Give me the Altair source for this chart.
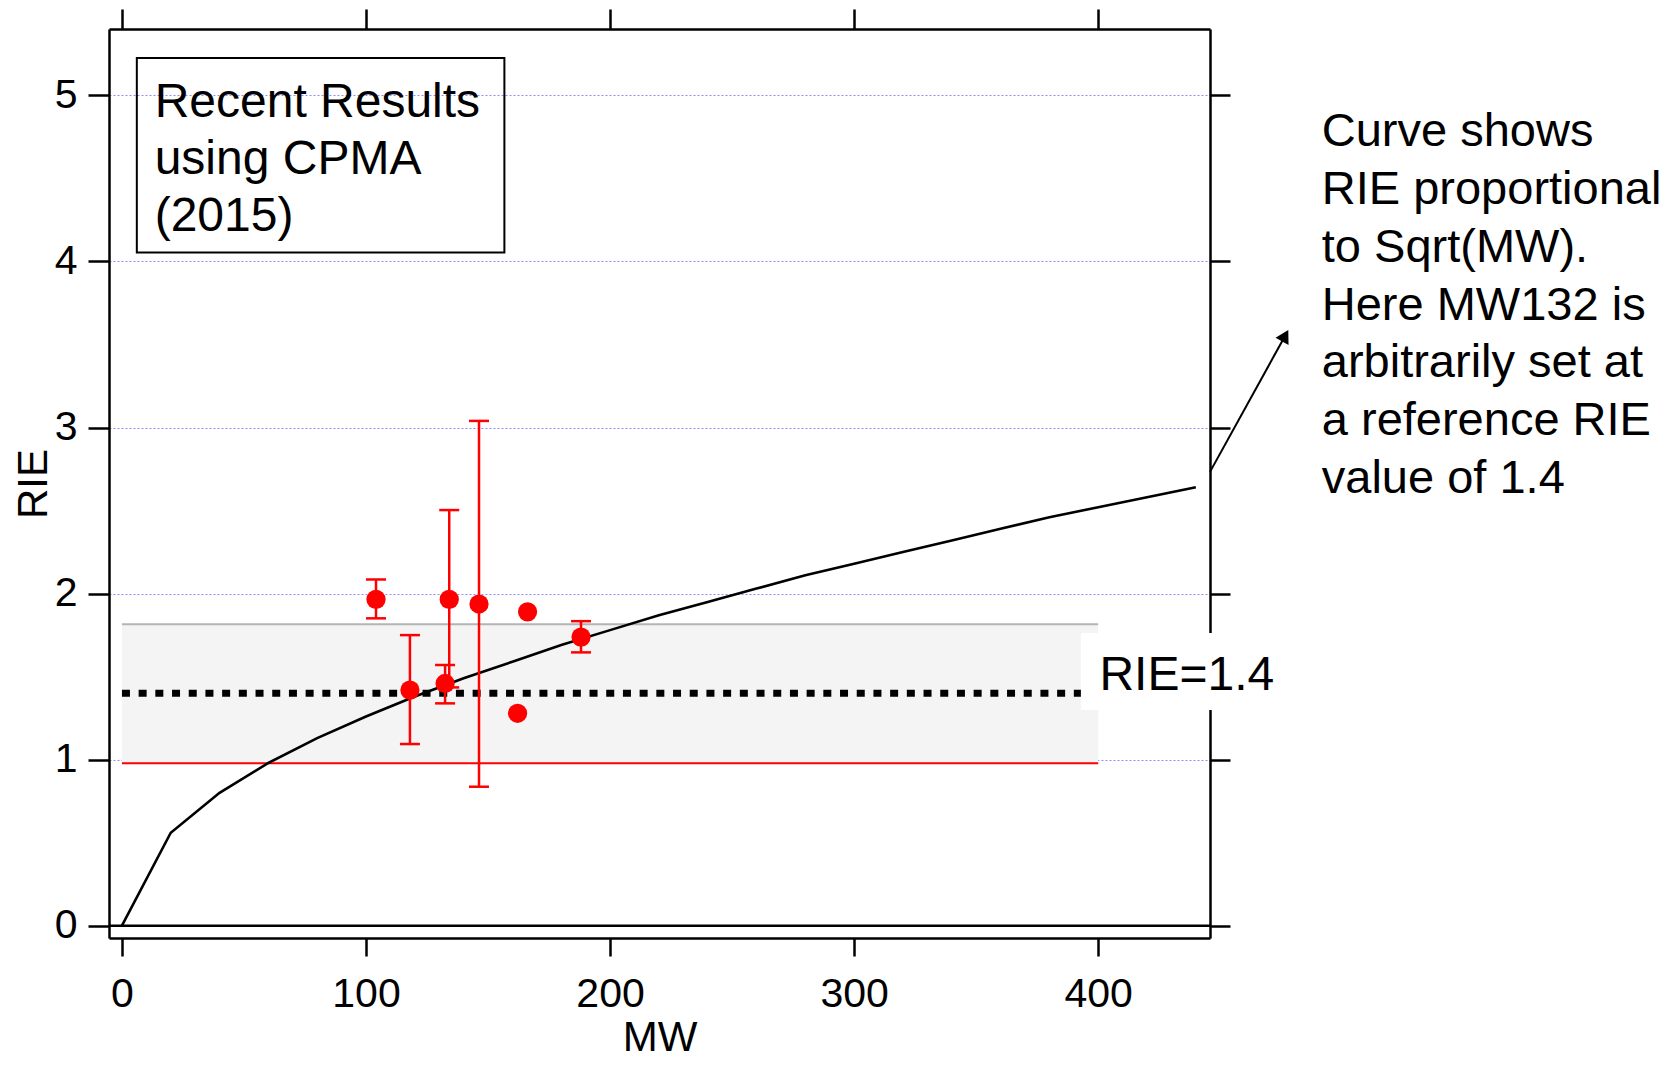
import altair as alt
import pandas as pd

# ---------------- data ----------------
mw = [104.1, 118.0, 132.4, 134.1, 146.3, 162.1, 166.2, 188.1]
rie = [1.965, 1.419, 1.459, 1.965, 1.937, 1.279, 1.890, 1.738]
err_lo = [1.851, 1.094, 1.339, 1.435, 0.837, None, None, 1.646]
err_hi = [2.085, 1.750, 1.570, 2.503, 3.040, None, None, 1.834]

curve_mw = [0, 20, 40, 60, 80, 100, 120, 140, 160, 180, 200, 220,
            240, 260, 280, 300, 320, 340, 360, 380, 400, 420, 440]
curve_rie = [0.0, 0.56, 0.80, 0.98, 1.13, 1.26, 1.38, 1.49, 1.59, 1.69, 1.78, 1.87,
             1.95, 2.03, 2.11, 2.18, 2.25, 2.32, 2.39, 2.46, 2.52, 2.58, 2.64]

band_mw = [0, 400]
band_lo = 0.978
band_hi = 1.816
ref_rie = 1.4

x_ticks = [0, 100, 200, 300, 400]
y_ticks = [0, 1, 2, 3, 4, 5]

legend_lines = ["Recent Results", "using CPMA", "(2015)"]
note_lines = ["Curve shows", "RIE proportional", "to Sqrt(MW).", "Here MW132 is",
              "arbitrarily set at", "a reference RIE", "value of 1.4"]
ref_label = "RIE=1.4"

# ---------------- layout constants ----------------
FONT = "Liberation Sans"
X_DOMAIN = [-5.3, 445.8]
Y_DOMAIN = [-0.074, 5.4]
xs = alt.Scale(domain=X_DOMAIN, nice=False, zero=False)
ys = alt.Scale(domain=Y_DOMAIN, nice=False, zero=False)

pts = pd.DataFrame({"mw": mw, "rie": rie, "lo": err_lo, "hi": err_hi})
bars = pts.dropna().copy()
caps = pd.concat([
    pd.DataFrame({"mw": bars["mw"], "v": bars["lo"]}),
    pd.DataFrame({"mw": bars["mw"], "v": bars["hi"]}),
])
curve = pd.DataFrame({"mw": curve_mw, "rie": curve_rie})
band = pd.DataFrame({"x1": [band_mw[0]], "x2": [band_mw[1]],
                     "lo": [band_lo], "hi": [band_hi], "ref": [ref_rie]})


def qx(f):
    return alt.X(f, type="quantitative", scale=xs, axis=None)


def qy(f):
    return alt.Y(f, type="quantitative", scale=ys, axis=None)


axis_common = dict(domain=True, domainColor="black", domainWidth=2.5,
                   tickColor="black", tickWidth=2.5, labelColor="black",
                   labelFont=FONT, titleFont=FONT, titleColor="black",
                   titleFontWeight="normal")

axes_main = alt.Chart(curve).mark_point(opacity=0).encode(
    x=alt.X("mw:Q", scale=xs, axis=alt.Axis(
        orient="bottom", values=x_ticks, grid=False, tickSize=18,
        labelFontSize=41, labelPadding=18, title="MW", titleFontSize=42,
        titleX=550.5, titleY=112, titleBaseline="alphabetic", titleAlign="center",
        **axis_common)),
    y=alt.Y("rie:Q", scale=ys, axis=alt.Axis(
        orient="left", values=y_ticks, grid=True, gridColor="#8c8cff",
        gridDash=[2, 2], gridWidth=1, tickSize=21, labelFontSize=41,
        labelPadding=11, title="RIE", titleFontSize=42, titleAngle=270,
        titleX=-63, titleY=454.5, titleBaseline="alphabetic", titleAlign="center",
        **axis_common)),
)

axes_sec = alt.Chart(curve).mark_point(opacity=0).encode(
    x=alt.X("mw:Q", scale=xs, axis=alt.Axis(
        orient="top", values=x_ticks, grid=False, labels=False, tickSize=20,
        title=None, **axis_common)),
    y=alt.Y("rie:Q", scale=ys, axis=alt.Axis(
        orient="right", values=y_ticks, grid=False, labels=False, tickSize=20,
        title=None, **axis_common)),
)

zero = alt.Chart(pd.DataFrame({"z": [0]})).mark_rule(
    color="black", strokeWidth=2.5).encode(y=qy("z"))

band_rect = alt.Chart(band).mark_rect(color="#f4f4f4").encode(
    x=qx("x1"), x2="x2", y=qy("lo"), y2="hi")
band_top = alt.Chart(band).mark_rule(color="#b4b4b4", strokeWidth=2).encode(
    x=qx("x1"), x2="x2", y=qy("hi"))
band_bot = alt.Chart(band).mark_rule(color="#ff0000", strokeWidth=2).encode(
    x=qx("x1"), x2="x2", y=qy("lo"))
ref_line = alt.Chart(band).mark_rule(color="black", strokeWidth=7,
                                     strokeDash=[8, 8.7]).encode(
    x=qx("x1"), x2="x2", y=qy("ref"))

curve_line = alt.Chart(curve).mark_line(color="black", strokeWidth=2.6).encode(
    x=qx("mw"), y=qy("rie"))

err_rule = alt.Chart(bars).mark_rule(color="#ff0000", strokeWidth=2.5).encode(
    x=qx("mw"), y=qy("lo"), y2="hi")
err_caps = alt.Chart(caps).mark_tick(color="#ff0000", orient="horizontal",
                                     size=20, thickness=2.5, opacity=1).encode(
    x=qx("mw"), y=qy("v"))
dots = alt.Chart(pts).mark_circle(color="#ff0000", size=370, opacity=1).encode(
    x=qx("mw"), y=qy("rie"))

# legend-like box, upper left
box = pd.DataFrame({"x1": [6.1], "x2": [156.7], "y1": [5.226], "y2": [4.054]})
legend_box = alt.Chart(box).mark_rect(fillOpacity=0, stroke="black",
                                      strokeWidth=2).encode(
    x=qx("x1"), x2="x2", y=qy("y1"), y2="y2")
legend_text = alt.Chart(pd.DataFrame({"x": [13.4], "y": [4.871]})).mark_text(
    text=legend_lines, align="left", baseline="alphabetic", font=FONT,
    fontSize=48, lineHeight=57, color="black").encode(x=qx("x"), y=qy("y"))

# RIE=1.4 label with white background
lab_bg = pd.DataFrame({"x1": [392.9], "x2": [480.0], "y1": [1.299], "y2": [1.762]})
ref_bg = alt.Chart(lab_bg).mark_rect(color="white").encode(
    x=qx("x1"), x2="x2", y=qy("y1"), y2="y2")
ref_text = alt.Chart(pd.DataFrame({"x": [400.5], "y": [1.422]})).mark_text(
    text=ref_label, align="left", baseline="alphabetic", font=FONT,
    fontSize=48, color="black").encode(x=qx("x"), y=qy("y"))

# annotation on the right with arrow
note_text = alt.Chart(pd.DataFrame({"x": [491.6], "y": [4.694]})).mark_text(
    text=note_lines, align="left", baseline="alphabetic", font=FONT,
    fontSize=47, lineHeight=57.8, color="black").encode(x=qx("x"), y=qy("y"))
arrow = pd.DataFrame({"x1": [445.8], "y1": [2.733], "x2": [476.6], "y2": [3.553]})
arrow_line = alt.Chart(arrow).mark_rule(color="black", strokeWidth=2).encode(
    x=qx("x1"), y=qy("y1"), x2="x2", y2="y2")
arrow_head = alt.Chart(arrow).mark_point(shape="triangle-up", filled=True,
                                         size=220, angle=29, color="black",
                                         opacity=1).encode(
    x=qx("x2"), y=qy("y2"))

chart = alt.layer(
    axes_main, axes_sec, band_rect, band_top, band_bot, zero, ref_line,
    curve_line, err_rule, err_caps, dots, legend_box, legend_text,
    ref_bg, ref_text, note_text, arrow_line, arrow_head,
).resolve_axis(x="independent", y="independent").properties(
    width=1101, height=909,
    autosize=alt.AutoSizeParams(type="none"),
    padding={"left": 101, "top": 21, "right": 458, "bottom": 121},
).configure_view(stroke="transparent").configure(font=FONT)

chart.save("out.html", embed_options={"renderer": "svg", "actions": False})
